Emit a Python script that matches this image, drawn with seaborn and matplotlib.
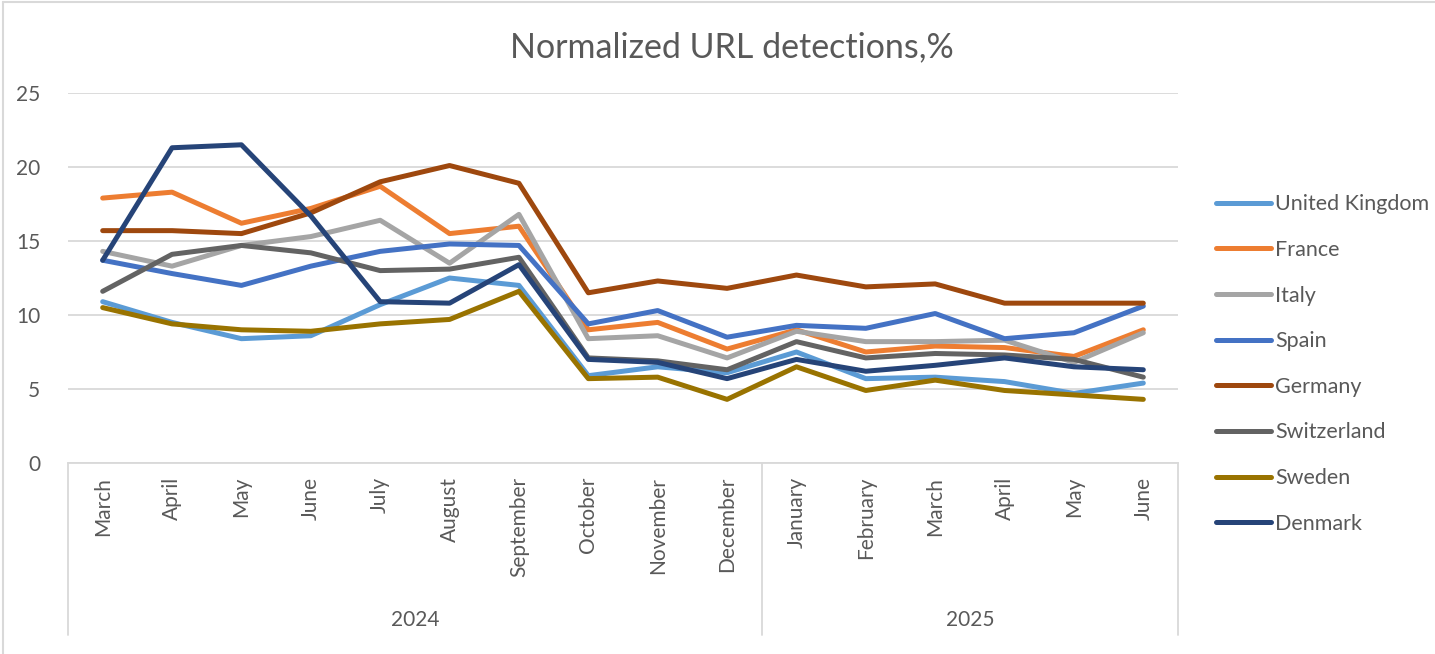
import matplotlib
matplotlib.use("Agg")
import matplotlib.pyplot as plt
import matplotlib.transforms as mtransforms
from matplotlib.lines import Line2D
import seaborn as sns
import pandas as pd

months = ["March", "April", "May", "June", "July", "August", "September",
          "October", "November", "December", "January", "February", "March",
          "April", "May", "June"]
years = ["2024", "2025"]
year_counts = [10, 6]

countries = ["United Kingdom", "France", "Italy", "Spain", "Germany",
             "Switzerland", "Sweden", "Denmark"]

uk = [10.9, 9.5, 8.4, 8.6, 10.7, 12.5, 12.0, 5.9, 6.5, 6.1, 7.5, 5.7, 5.8, 5.5, 4.7, 5.4]
france = [17.9, 18.3, 16.2, 17.2, 18.7, 15.5, 16.0, 9.0, 9.5, 7.7, 9.0, 7.5, 7.9, 7.8, 7.2, 9.0]
italy = [14.3, 13.3, 14.7, 15.3, 16.4, 13.5, 16.8, 8.4, 8.6, 7.1, 8.9, 8.2, 8.2, 8.3, 6.8, 8.8]
spain = [13.7, 12.8, 12.0, 13.3, 14.3, 14.8, 14.7, 9.4, 10.3, 8.5, 9.3, 9.1, 10.1, 8.4, 8.8, 10.6]
germany = [15.7, 15.7, 15.5, 16.9, 19.0, 20.1, 18.9, 11.5, 12.3, 11.8, 12.7, 11.9, 12.1, 10.8, 10.8, 10.8]
switzerland = [11.6, 14.1, 14.7, 14.2, 13.0, 13.1, 13.9, 7.1, 6.9, 6.3, 8.2, 7.1, 7.4, 7.3, 7.0, 5.8]
sweden = [10.5, 9.4, 9.0, 8.9, 9.4, 9.7, 11.6, 5.7, 5.8, 4.3, 6.5, 4.9, 5.6, 4.9, 4.6, 4.3]
denmark = [13.7, 21.3, 21.5, 16.7, 10.9, 10.8, 13.4, 7.0, 6.8, 5.7, 7.0, 6.2, 6.6, 7.1, 6.5, 6.3]

series = [uk, france, italy, spain, germany, switzerland, sweden, denmark]
colors = ["#5B9BD5", "#ED7D31", "#A5A5A5", "#4472C4", "#9E480E",
          "#636363", "#997300", "#264478"]

rows = []
for c, vals in zip(countries, series):
    for i, v in enumerate(vals):
        rows.append({"idx": i, "value": v, "country": c})
df = pd.DataFrame(rows)

sns.set_theme(style="white")
plt.rcParams["font.family"] = ["Lato", "DejaVu Sans"]
text_color = "#595959"
grid_color = "#D9D9D9"

fig = plt.figure(figsize=(14.35, 6.54), dpi=100)
ax = fig.add_axes([68 / 1435, 1 - 463 / 654, (1178 - 68) / 1435, (463 - 93) / 654])

sns.lineplot(data=df, x="idx", y="value", hue="country", hue_order=countries,
             palette=colors, linewidth=3.6, ax=ax, legend=False,
             solid_capstyle="round", solid_joinstyle="round")

ax.set_xlim(-0.5, len(months) - 0.5)
ax.set_ylim(0, 25)
ax.set_yticks([0, 5, 10, 15, 20, 25])
ax.yaxis.grid(True, color=grid_color, linewidth=1.3)
ax.set_axisbelow(True)
for s in ["left", "right", "top"]:
    ax.spines[s].set_visible(False)
ax.spines["bottom"].set_color(grid_color)
ax.spines["bottom"].set_linewidth(1.3)
ax.set_xlabel("")
ax.set_ylabel("")
ax.set_xticks(range(len(months)))
ax.set_xticklabels(months, rotation=90, va="top", ha="center")
ax.tick_params(axis="x", length=0, pad=10, labelsize=15, labelcolor=text_color)
ax.tick_params(axis="y", length=0, pad=20, labelsize=15, labelcolor=text_color)

# multi-level year axis
trans = mtransforms.blended_transform_factory(ax.transData, ax.transAxes)
sep_depth = -(635 - 463) / (463 - 93)
year_y = -(620 - 463) / (463 - 93)
start = -0.5
ax.plot([start, start], [0, sep_depth], color=grid_color, lw=1.3,
        transform=trans, clip_on=False)
for yr, n in zip(years, year_counts):
    end = start + n
    ax.plot([end, end], [0, sep_depth], color=grid_color, lw=1.3,
            transform=trans, clip_on=False)
    ax.text((start + end) / 2, year_y, yr, transform=trans, ha="center",
            va="center", fontsize=15, color=text_color)
    start = end

fig.text(732 / 1435, 1 - 47 / 654, "Normalized URL detections,%", ha="center",
         va="center", fontsize=24.5, color=text_color)

handles = [Line2D([0], [0], color=col, lw=3.6, solid_capstyle="round")
           for col in colors]
leg = fig.legend(handles, countries, loc="center left",
                 bbox_to_anchor=(1216 / 1435, 1 - 364 / 654),
                 frameon=False, fontsize=15.5, handlelength=2.55,
                 handletextpad=0.2, labelspacing=1.19, borderpad=0,
                 borderaxespad=0)
for t in leg.get_texts():
    t.set_color(text_color)

# chart border (left/top visible)
fig.add_artist(Line2D([3 / 1435, 3 / 1435], [0, 1 - 2 / 654], color=grid_color,
                      lw=1.5, transform=fig.transFigure))
fig.add_artist(Line2D([3 / 1435, 1], [1 - 2 / 654, 1 - 2 / 654], color=grid_color,
                      lw=1.5, transform=fig.transFigure))

fig.savefig("out.png", dpi=100)
